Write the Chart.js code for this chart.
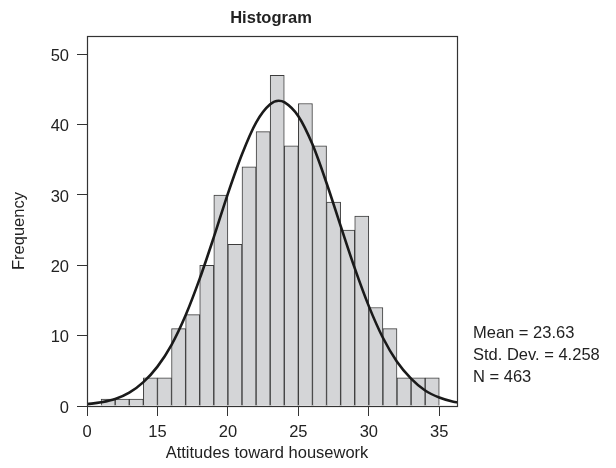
<!DOCTYPE html>
<html>

<head>
  <title>Histogram</title>
  <script src="https://cdn.jsdelivr.net/npm/chart.js"></script>
  <style>
    html, body { margin: 0; padding: 0; background: #fff; }
    #wrap { width: 616px; height: 468px; }
  </style>
</head>

<body>
  <div id="wrap"><canvas id="histChart"></canvas></div>

  <script>
    // bin centres (bins are one unit wide) and counts
    const binCenters = [11.5, 12.5, 13.5, 14.5, 15.5, 16.5, 17.5, 18.5, 19.5, 20.5, 21.5, 22.5,
      23.5, 24.5, 25.5, 26.5, 27.5, 28.5, 29.5, 30.5, 31.5, 32.5, 33.5, 34.5];
    const binCounts = [1, 1, 1, 4, 4, 11, 13, 20, 30, 23, 34, 39,
      47, 37, 43, 37, 29, 25, 27, 14, 11, 4, 4, 4];

    // normal curve, read at each unit along the axis
    const curveX = [10, 11, 12, 13, 14, 15, 16, 17, 18, 19, 20, 21, 22, 23, 23.6,
      24, 25, 26, 27, 28, 29, 30, 31, 32, 33, 34, 35, 36, 36.33];
    const curveY = [0.26, 0.53, 1.0, 1.9, 3.4, 5.6, 8.7, 12.9, 18.1, 24.0, 30.2, 35.8, 40.3, 42.9, 43.4,
      43.2, 41.2, 37.2, 31.7, 25.6, 19.6, 14.2, 9.7, 6.3, 3.9, 2.2, 1.2, 0.6, 0.5];

    const xTickValues = [10, 15, 20, 25, 30, 35];
    const xTickLabels = ['0', '15', '20', '25', '30', '35'];
    const yTickValues = [0, 10, 20, 30, 40, 50];

    const statLines = ['Mean = 23.63', 'Std. Dev. = 4.258', 'N = 463'];

    const FONT = '"Liberation Sans", Arial, Helvetica, sans-serif';
    const TEXT = '#222222';
    const FRAME = '#333333';

    Chart.defaults.font.family = FONT;
    Chart.defaults.font.size = 16.5;
    Chart.defaults.color = TEXT;

    const annotate = {
      id: 'annotate',
      afterDraw(chart) {
        const { ctx, chartArea: a } = chart;
        ctx.save();
        ctx.strokeStyle = FRAME;
        ctx.lineWidth = 1.2;
        ctx.strokeRect(a.left + 0.5, a.top + 0.5, a.right - a.left - 1, a.bottom - a.top);

        ctx.fillStyle = TEXT;
        ctx.textBaseline = 'alphabetic';
        ctx.textAlign = 'center';
        ctx.font = 'bold 16.5px ' + FONT;
        ctx.fillText('Histogram', 271, 22.5);

        ctx.font = '16.5px ' + FONT;
        ctx.fillText('Attitudes toward housework', 267, 458);

        ctx.textAlign = 'left';
        statLines.forEach((t, i) => ctx.fillText(t, 473, 337.7 + i * 21.9));

        ctx.translate(24, 231);
        ctx.rotate(-Math.PI / 2);
        ctx.textAlign = 'center';
        ctx.fillText('Frequency', 0, 0);
        ctx.restore();
      }
    };

    const ctx = document.getElementById('histChart').getContext('2d');
    new Chart(ctx, {
      type: 'bar',
      data: {
        datasets: [
          {
            type: 'line',
            data: curveX.map((x, i) => ({ x: x, y: curveY[i] })),
            borderColor: '#1a1a1a',
            borderWidth: 2.6,
            pointRadius: 0,
            cubicInterpolationMode: 'monotone',
            fill: false,
            order: 0
          },
          {
            type: 'bar',
            data: binCenters.map((x, i) => ({ x: x, y: binCounts[i] })),
            backgroundColor: '#d4d5d7',
            borderColor: '#3c3c3c',
            borderWidth: 1,
            barPercentage: 1,
            categoryPercentage: 1,
            order: 1
          }
        ]
      },
      options: {
        responsive: true,
        maintainAspectRatio: false,
        animation: false,
        layout: { padding: { left: 0, top: 36, right: 158, bottom: 0 } },
        plugins: {
          legend: { display: false },
          tooltip: { enabled: false },
          title: { display: false }
        },
        scales: {
          x: {
            type: 'linear',
            min: 10,
            max: 36.33,
            offset: false,
            grid: { display: true, drawOnChartArea: false, offset: false, tickLength: 10, color: FRAME },
            border: { display: false },
            ticks: {
              padding: 7,
              maxRotation: 0,
              callback: (v) => xTickLabels[xTickValues.indexOf(v)]
            },
            afterBuildTicks: (s) => { s.ticks = xTickValues.map(v => ({ value: v })); },
            afterFit: (s) => { s.height = 62; }
          },
          y: {
            min: 0,
            max: 52.6,
            grid: { display: true, drawOnChartArea: false, tickLength: 10, color: FRAME },
            border: { display: false },
            ticks: { padding: 8, labelOffset: 2 },
            afterBuildTicks: (s) => { s.ticks = yTickValues.map(v => ({ value: v })); },
            afterFit: (s) => { s.width = 87; }
          }
        }
      },
      plugins: [annotate]
    });
  </script>
</body>

</html>
